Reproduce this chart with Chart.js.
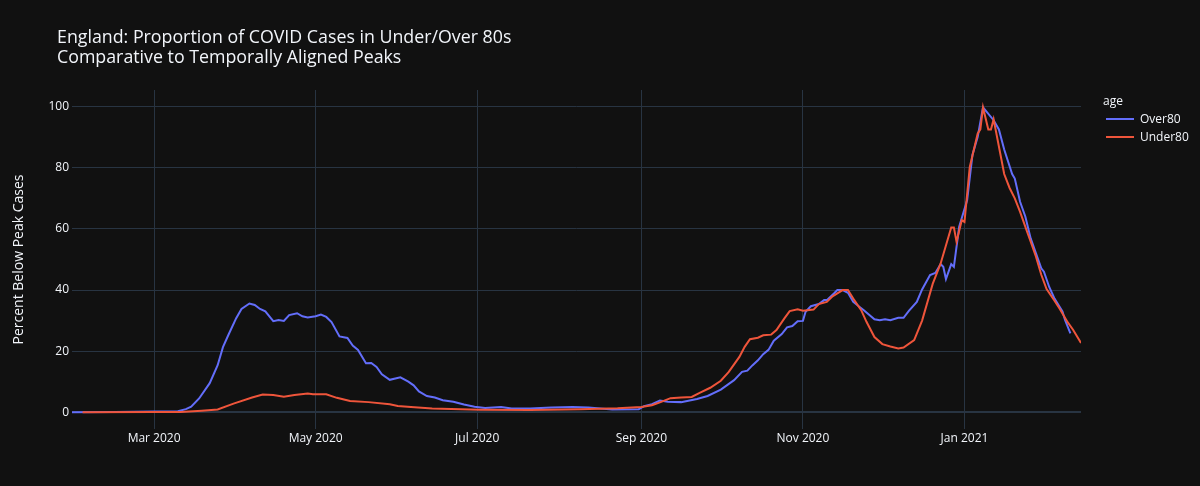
<!DOCTYPE html>
<html>
<head>
<meta charset="utf-8">
<script src="https://cdn.jsdelivr.net/npm/chart.js@4/dist/chart.umd.min.js"></script>
<style>
  html, body { margin: 0; padding: 0; background: #111111; }
  #wrap { position: relative; width: 1200px; height: 486px; background: #111111; font-family: 'Open Sans', sans-serif; color: #f2f5fa; }
  #chart { position: absolute; left: 0; top: 0; }
  .title { position: absolute; left: 57px; top: 25.5px; font-size: 17.8px; line-height: 20.6px; white-space: nowrap; }
  .legend { position: absolute; left: 1103px; top: 92px; font-size: 12px; }
  .legend .head { height: 18px; line-height: 18px; }
  .legend .item { position: relative; height: 18px; line-height: 18px; padding-left: 37px; white-space: nowrap; }
  .legend .swatch { position: absolute; left: 3px; top: 8px; width: 28px; height: 0; border-top: 2px solid; }
</style>
</head>
<body>
<div id="wrap">
  <canvas id="chart" width="1200" height="486"></canvas>
  <div class="title">England: Proportion of COVID Cases in Under/Over 80s<br>Comparative to Temporally Aligned Peaks</div>
  <div class="legend" id="legend"></div>
</div>
<script>
  // Over80 series
  const overDates = [
    '2020-01-30', '2020-02-15', '2020-03-01', '2020-03-10', '2020-03-13', '2020-03-15', '2020-03-18', '2020-03-22',
    '2020-03-25', '2020-03-27', '2020-03-29', '2020-04-01', '2020-04-03', '2020-04-06', '2020-04-08', '2020-04-10',
    '2020-04-12', '2020-04-15', '2020-04-17', '2020-04-19', '2020-04-21', '2020-04-24', '2020-04-26', '2020-04-28',
    '2020-05-01', '2020-05-03', '2020-05-05', '2020-05-07', '2020-05-10', '2020-05-13', '2020-05-15', '2020-05-17',
    '2020-05-20', '2020-05-22', '2020-05-24', '2020-05-26', '2020-05-29', '2020-06-02', '2020-06-05', '2020-06-07',
    '2020-06-09', '2020-06-12', '2020-06-15', '2020-06-18', '2020-06-22', '2020-06-26', '2020-06-30', '2020-07-04',
    '2020-07-10', '2020-07-14', '2020-07-21', '2020-07-29', '2020-08-06', '2020-08-12', '2020-08-21', '2020-08-31',
    '2020-09-02', '2020-09-05', '2020-09-08', '2020-09-11', '2020-09-16', '2020-09-22', '2020-09-26', '2020-10-01',
    '2020-10-06', '2020-10-09', '2020-10-11', '2020-10-13', '2020-10-15', '2020-10-17', '2020-10-19', '2020-10-21',
    '2020-10-24', '2020-10-26', '2020-10-28', '2020-10-30', '2020-11-01', '2020-11-02', '2020-11-04', '2020-11-07',
    '2020-11-09', '2020-11-10', '2020-11-13', '2020-11-14', '2020-11-16', '2020-11-18', '2020-11-20', '2020-11-24',
    '2020-11-28', '2020-11-30', '2020-12-02', '2020-12-04', '2020-12-07', '2020-12-09', '2020-12-11', '2020-12-14',
    '2020-12-16', '2020-12-19', '2020-12-21', '2020-12-23', '2020-12-24', '2020-12-25', '2020-12-27', '2020-12-28',
    '2020-12-30', '2021-01-02', '2021-01-04', '2021-01-06', '2021-01-08', '2021-01-12', '2021-01-14', '2021-01-16',
    '2021-01-19', '2021-01-20', '2021-01-22', '2021-01-24', '2021-01-26', '2021-01-28', '2021-01-30', '2021-01-31',
    '2021-02-02', '2021-02-04', '2021-02-07', '2021-02-08', '2021-02-10',
  ];
  const overValues = [
    0, 0.1, 0.2, 0.3, 1.0, 1.8, 4.5, 9.5,
    15.4, 21.3, 25.2, 30.8, 33.8, 35.6, 35.1, 33.8,
    33.0, 29.8, 30.2, 29.9, 31.8, 32.4, 31.4, 31.0,
    31.4, 32.0, 31.2, 29.5, 24.8, 24.3, 21.8, 20.4,
    16.0, 16.1, 14.8, 12.4, 10.6, 11.4, 10.0, 8.8,
    6.8, 5.3, 4.8, 3.9, 3.4, 2.5, 1.8, 1.4,
    1.7, 1.2, 1.2, 1.5, 1.7, 1.5, 0.9, 1.0,
    2.0, 2.6, 3.8, 3.4, 3.3, 4.3, 5.3, 7.4,
    10.5, 13.2, 13.6, 15.4, 17.0, 19.0, 20.4, 23.4,
    25.6, 27.8, 28.2, 29.8, 29.9, 32.9, 34.7, 35.4,
    36.7, 36.7, 39.1, 40.0, 40.0, 39.1, 36.1, 33.4,
    30.4, 30.1, 30.4, 30.1, 30.9, 30.9, 33.2, 36.1,
    40.2, 44.9, 45.6, 48.5, 47.6, 43.6, 48.5, 47.6,
    60.7, 69.4, 84.2, 90.2, 99.8, 95.6, 92.6, 86.0,
    78.0, 76.5, 68.9, 64.0, 56.9, 52.0, 47.1, 46.0,
    41.0, 37.2, 33.0, 30.1, 25.8,
  ];

  // Under80 series
  const underDates = [
    '2020-02-03', '2020-03-01', '2020-03-11', '2020-03-19', '2020-03-25', '2020-03-31', '2020-04-07', '2020-04-11',
    '2020-04-15', '2020-04-19', '2020-04-23', '2020-04-28', '2020-04-30', '2020-05-05', '2020-05-09', '2020-05-14',
    '2020-05-21', '2020-05-29', '2020-06-01', '2020-06-06', '2020-06-14', '2020-07-02', '2020-07-21', '2020-08-09',
    '2020-08-23', '2020-09-01', '2020-09-05', '2020-09-08', '2020-09-12', '2020-09-16', '2020-09-20', '2020-09-23',
    '2020-09-27', '2020-10-01', '2020-10-04', '2020-10-08', '2020-10-10', '2020-10-12', '2020-10-15', '2020-10-17',
    '2020-10-20', '2020-10-22', '2020-10-25', '2020-10-27', '2020-10-30', '2020-11-01', '2020-11-05', '2020-11-07',
    '2020-11-10', '2020-11-12', '2020-11-14', '2020-11-16', '2020-11-18', '2020-11-20', '2020-11-23', '2020-11-25',
    '2020-11-28', '2020-12-01', '2020-12-04', '2020-12-07', '2020-12-09', '2020-12-13', '2020-12-16', '2020-12-20',
    '2020-12-23', '2020-12-27', '2020-12-28', '2020-12-29', '2020-12-31', '2021-01-01', '2021-01-03', '2021-01-06',
    '2021-01-07', '2021-01-08', '2021-01-10', '2021-01-11', '2021-01-12', '2021-01-14', '2021-01-16', '2021-01-18',
    '2021-01-20', '2021-01-22', '2021-01-24', '2021-01-26', '2021-01-28', '2021-01-30', '2021-02-01', '2021-02-04',
    '2021-02-06', '2021-02-09', '2021-02-11', '2021-02-14',
  ];
  const underValues = [
    0, 0.1, 0.1, 0.5, 0.9, 2.8, 4.8, 5.8,
    5.6, 5.1, 5.6, 6.1, 5.9, 5.9, 4.7, 3.7,
    3.3, 2.6, 2.0, 1.7, 1.2, 0.8, 0.7, 1.0,
    1.3, 1.7, 2.3, 3.2, 4.6, 4.8, 5.0, 6.3,
    8.0, 10.3, 13.2, 18.1, 21.4, 23.9, 24.4, 25.2,
    25.4, 26.9, 30.7, 33.1, 33.7, 33.2, 33.6, 35.4,
    36.1, 37.8, 38.9, 40.0, 40.0, 37.2, 33.4, 29.6,
    24.6, 22.3, 21.5, 20.9, 21.2, 23.6, 30.0, 42.0,
    48.7, 60.5, 60.5, 55.8, 62.9, 62.3, 80.3, 91.3,
    92.6, 99.8, 92.6, 92.6, 95.9, 87.0, 78.0, 73.5,
    70.0, 65.6, 60.7, 55.8, 50.9, 45.0, 40.3, 36.5,
    33.8, 29.4, 27.0, 22.7,
  ];

  const xTickDates = ['2020-03-01', '2020-05-01', '2020-07-01', '2020-09-01', '2020-11-01', '2021-01-01'];
  const xTickLabels = ['Mar 2020', 'May 2020', 'Jul 2020', 'Sep 2020', 'Nov 2020', 'Jan 2021'];
  const yTicks = [0, 20, 40, 60, 80, 100];

  const X_MIN = '2020-01-30';
  const X_MAX = '2021-02-14';
  const GRID = '#283442';
  const TEXT = '#f2f5fa';
  const FONT = "'Open Sans', sans-serif";

  const SERIES = [
    { name: 'Over80', dates: overDates, values: overValues, color: '#636efa', order: 1 },
    { name: 'Under80', dates: underDates, values: underValues, color: '#EF553B', order: 0 },
  ];

  // days since 2020-01-01
  function dayNum(s) {
    const [y, m, d] = s.split('-').map(Number);
    return (Date.UTC(y, m - 1, d) - Date.UTC(2020, 0, 1)) / 86400000;
  }

  const tickDays = xTickDates.map(dayNum);

  const datasets = SERIES.map((s) => ({
    label: s.name,
    data: s.dates.map((d, i) => ({ x: dayNum(d), y: s.values[i] })),
    borderColor: s.color,
    backgroundColor: s.color,
    borderWidth: 2,
    pointRadius: 0,
    tension: 0,
    fill: false,
    order: s.order,
  }));

  new Chart(document.getElementById('chart'), {
    type: 'line',
    data: { datasets },
    options: {
      responsive: false,
      animation: false,
      layout: { padding: { top: 90, right: 119, left: 0, bottom: 0 } },
      plugins: { legend: { display: false }, tooltip: { enabled: false } },
      scales: {
        x: {
          type: 'linear',
          min: dayNum(X_MIN),
          max: dayNum(X_MAX),
          border: { display: false },
          grid: { color: GRID, lineWidth: 1, drawTicks: false },
          ticks: {
            color: TEXT,
            font: { family: FONT, size: 12 },
            padding: 2,
            maxRotation: 0,
            callback: (v) => xTickLabels[tickDays.indexOf(v)] ?? '',
          },
          afterBuildTicks: (scale) => {
            scale.ticks = tickDays.map((v) => ({ value: v }));
          },
          afterFit: (scale) => { scale.height = 57; },
        },
        y: {
          min: -5.5,
          max: 105.5,
          border: { display: false },
          grid: {
            color: GRID,
            lineWidth: (ctx) => (ctx.tick && ctx.tick.value === 0 ? 2 : 1),
            drawTicks: false,
          },
          ticks: { color: TEXT, font: { family: FONT, size: 12 }, padding: 3 },
          afterBuildTicks: (scale) => {
            scale.ticks = yTicks.map((v) => ({ value: v }));
          },
          afterFit: (scale) => { scale.width = 72; },
          title: {
            display: true,
            text: 'Percent Below Peak Cases',
            color: TEXT,
            font: { family: FONT, size: 14 },
            padding: { top: 11, bottom: 0 },
          },
        },
      },
    },
  });

  document.getElementById('legend').innerHTML =
    '<div class="head">age</div>' +
    SERIES.map((s) => `<div class="item"><span class="swatch" style="border-color:${s.color}"></span>${s.name}</div>`).join('');
</script>
</body>
</html>
